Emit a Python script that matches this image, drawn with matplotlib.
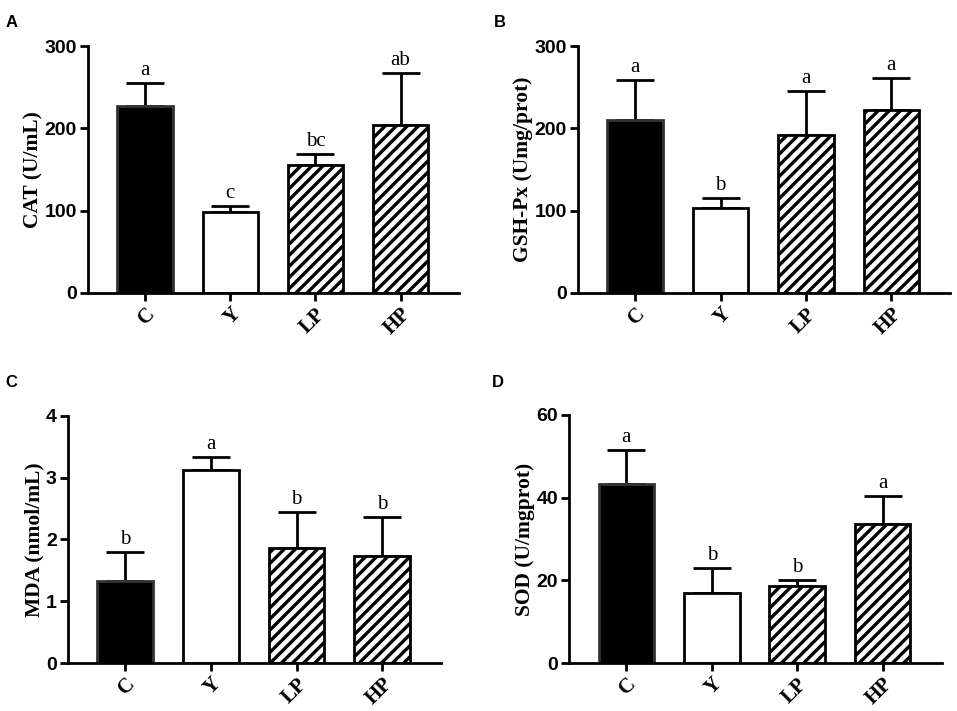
import matplotlib.pyplot as plt
import numpy as np

plt.rcParams['hatch.linewidth'] = 2.4

groups = ['C', 'Y', 'LP', 'HP']

cat_mean = [227, 99, 155, 204]
cat_err = [28, 7, 14, 64]
cat_sig = ['a', 'c', 'bc', 'ab']

gsh_mean = [210, 103, 192, 223]
gsh_err = [49, 12, 53, 38]
gsh_sig = ['a', 'b', 'a', 'a']

mda_mean = [1.33, 3.13, 1.87, 1.73]
mda_err = [0.47, 0.21, 0.58, 0.63]
mda_sig = ['b', 'a', 'b', 'b']

sod_mean = [43.4, 16.9, 18.7, 33.6]
sod_err = [8.2, 6.1, 1.4, 6.7]
sod_sig = ['a', 'b', 'b', 'a']

fills = ['black', 'white', 'white', 'white']
edges = ['#333333', 'black', 'black', 'black']
hatches = ['', '', '///', '///']

serif = 'Liberation Serif'
sans = 'Liberation Sans'

fig = plt.figure(figsize=(9.57, 7.11), dpi=100)


def panel(rect, mean, err, sig, ylim, yticks, ylabel, letter, letter_xy):
    ax = fig.add_axes(rect)
    x = np.arange(len(groups))
    ax.bar(x, mean, width=0.65, color=fills, edgecolor=edges,
           linewidth=2, hatch=hatches, zorder=2)
    ax.errorbar(x, mean, yerr=[np.zeros(len(x)), err], fmt='none',
                ecolor='black', elinewidth=2, capsize=14, capthick=2, zorder=1)
    pad = (ylim[1] - ylim[0]) * 0.012
    for xi, m, e, s in zip(x, mean, err, sig):
        ax.text(xi, m + e + pad, s, ha='center', va='bottom',
                fontsize=15, family=serif)
    ax.set_xlim(-0.67, 3.69)
    ax.set_ylim(*ylim)
    ax.set_yticks(yticks)
    ax.set_xticks(x)
    ax.set_xticklabels(groups, rotation=45, ha='right', va='top',
                       fontsize=15, family=serif, fontweight='bold',
                       rotation_mode='anchor')
    for lab in ax.get_yticklabels():
        lab.set_fontfamily(sans)
        lab.set_fontweight('bold')
        lab.set_fontsize(14)
    ax.set_ylabel(ylabel, family=serif, fontweight='bold', fontsize=15.5,
                  labelpad=1)
    ax.spines['top'].set_visible(False)
    ax.spines['right'].set_visible(False)
    ax.spines['left'].set_linewidth(2)
    ax.spines['bottom'].set_linewidth(2)
    ax.tick_params(width=2, length=6, pad=2)
    fig.text(letter_xy[0], letter_xy[1], letter, family=sans,
             fontweight='bold', fontsize=12)
    return ax


panel([0.092, 0.588, 0.388, 0.347], cat_mean, cat_err, cat_sig,
      (0, 300), [0, 100, 200, 300], 'CAT (U/mL)', 'A', (0.006, 0.962))
panel([0.604, 0.588, 0.389, 0.347], gsh_mean, gsh_err, gsh_sig,
      (0, 300), [0, 100, 200, 300], 'GSH-Px (Umg/prot)', 'B', (0.516, 0.962))
panel([0.071, 0.0675, 0.390, 0.3475], mda_mean, mda_err, mda_sig,
      (0, 4), [0, 1, 2, 3, 4], 'MDA (nmol/mL)', 'C', (0.006, 0.456))
panel([0.5946, 0.0675, 0.3894, 0.349], sod_mean, sod_err, sod_sig,
      (0, 60), [0, 20, 40, 60], 'SOD (U/mgprot)', 'D', (0.514, 0.456))

fig.savefig('out.png', dpi=100)
